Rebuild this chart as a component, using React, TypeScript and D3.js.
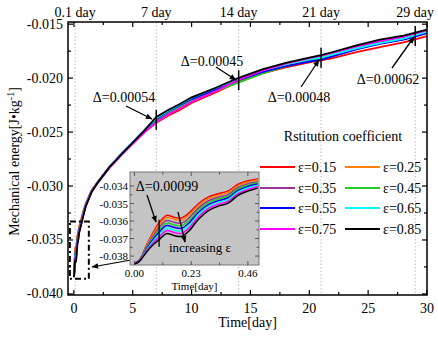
import React from 'react';
import * as d3 from 'd3';

// time axis shared by every series (dense at start so the inset can reuse it)
const timeDays = [0, 0.02, 0.05, 0.08, 0.1, 0.13, 0.16, 0.19, 0.22, 0.26, 0.3, 0.34, 0.38, 0.42, 0.46, 0.5,
  0.75, 1, 1.5, 2, 3, 4, 5, 6, 7, 8, 9, 10, 12, 14, 16, 18, 20, 21, 22, 24, 26, 28, 29, 30];

const e015 = [-0.03840, -0.03822, -0.03735, -0.03655, -0.03610, -0.03568, -0.03578, -0.03583, -0.03555, -0.03500, -0.03462, -0.03444, -0.03428, -0.03390, -0.03370, -0.03360,
  -0.03255, -0.03165, -0.03042, -0.02966, -0.02830, -0.02713, -0.02605, -0.02500, -0.02414, -0.02348, -0.02294, -0.02230, -0.02135, -0.02032, -0.01955, -0.01900, -0.01854, -0.01836, -0.01814, -0.01760, -0.01712, -0.01668, -0.01640, -0.01612];
const e025 = [-0.03841, -0.03823, -0.03740, -0.03664, -0.03622, -0.03580, -0.03590, -0.03596, -0.03567, -0.03511, -0.03471, -0.03453, -0.03436, -0.03398, -0.03377, -0.03366,
  -0.03262, -0.03170, -0.03045, -0.02967, -0.02827, -0.02708, -0.02596, -0.02488, -0.02390, -0.02322, -0.02264, -0.02200, -0.02106, -0.02025, -0.01946, -0.01884, -0.01830, -0.01808, -0.01780, -0.01725, -0.01678, -0.01640, -0.01610, -0.01580];
const e035 = [-0.03841, -0.03824, -0.03746, -0.03676, -0.03637, -0.03597, -0.03607, -0.03612, -0.03584, -0.03525, -0.03484, -0.03464, -0.03448, -0.03408, -0.03387, -0.03375,
  -0.03270, -0.03174, -0.03047, -0.02969, -0.02832, -0.02710, -0.02599, -0.02490, -0.02394, -0.02326, -0.02263, -0.02198, -0.02104, -0.02012, -0.01930, -0.01868, -0.01816, -0.01795, -0.01766, -0.01710, -0.01662, -0.01624, -0.01592, -0.01564];
const e045 = [-0.03842, -0.03825, -0.03752, -0.03687, -0.03651, -0.03612, -0.03622, -0.03627, -0.03598, -0.03538, -0.03495, -0.03474, -0.03457, -0.03416, -0.03395, -0.03382,
  -0.03275, -0.03178, -0.03050, -0.02971, -0.02829, -0.02709, -0.02598, -0.02489, -0.02386, -0.02318, -0.02262, -0.02206, -0.02122, -0.02042, -0.01958, -0.01892, -0.01838, -0.01816, -0.01784, -0.01722, -0.01674, -0.01636, -0.01608, -0.01576];
const e055 = [-0.03843, -0.03826, -0.03757, -0.03697, -0.03664, -0.03626, -0.03636, -0.03642, -0.03613, -0.03550, -0.03506, -0.03484, -0.03467, -0.03425, -0.03403, -0.03389,
  -0.03280, -0.03180, -0.03051, -0.02970, -0.02826, -0.02705, -0.02594, -0.02482, -0.02378, -0.02310, -0.02252, -0.02194, -0.02107, -0.02020, -0.01944, -0.01890, -0.01846, -0.01830, -0.01798, -0.01734, -0.01682, -0.01644, -0.01616, -0.01584];
const e065 = [-0.03844, -0.03828, -0.03763, -0.03708, -0.03678, -0.03641, -0.03651, -0.03657, -0.03627, -0.03563, -0.03517, -0.03494, -0.03477, -0.03434, -0.03411, -0.03396,
  -0.03285, -0.03183, -0.03053, -0.02972, -0.02828, -0.02707, -0.02595, -0.02484, -0.02370, -0.02302, -0.02244, -0.02182, -0.02094, -0.02005, -0.01928, -0.01872, -0.01826, -0.01808, -0.01780, -0.01724, -0.01676, -0.01634, -0.01602, -0.01570];
const e075 = [-0.03844, -0.03829, -0.03769, -0.03718, -0.03691, -0.03655, -0.03665, -0.03671, -0.03642, -0.03576, -0.03528, -0.03504, -0.03487, -0.03443, -0.03420, -0.03404,
  -0.03292, -0.03188, -0.03055, -0.02974, -0.02836, -0.02718, -0.02610, -0.02502, -0.02410, -0.02338, -0.02282, -0.02220, -0.02124, -0.02014, -0.01930, -0.01866, -0.01814, -0.01792, -0.01764, -0.01706, -0.01658, -0.01616, -0.01586, -0.01558];
const e085 = [-0.03845, -0.03830, -0.03775, -0.03730, -0.03707, -0.03672, -0.03682, -0.03688, -0.03658, -0.03590, -0.03540, -0.03515, -0.03498, -0.03453, -0.03429, -0.03412,
  -0.03300, -0.03192, -0.03057, -0.02973, -0.02827, -0.02712, -0.02597, -0.02485, -0.02360, -0.02296, -0.02240, -0.02178, -0.02092, -0.01997, -0.01920, -0.01858, -0.01810, -0.01788, -0.01758, -0.01696, -0.01644, -0.01606, -0.01578, -0.01550];

const seriesLabels = ['ε=0.15', 'ε=0.25', 'ε=0.35', 'ε=0.45', 'ε=0.55', 'ε=0.65', 'ε=0.75', 'ε=0.85'];
const seriesValues = [e015, e025, e035, e045, e055, e065, e075, e085];
const seriesColors = ['#ff0000', '#ff8000', '#993399', '#22cc22', '#0000ff', '#00ffff', '#ff00ff', '#000000'];

const topDays = [0.1, 7, 14, 21, 29];
const topLabels = ['0.1 day', '7 day', '14 day', '21 day', '29 day'];
const deltaDays = [7, 14, 21, 29];
const deltaLabels = ['Δ=0.00054', 'Δ=0.00045', 'Δ=0.00048', 'Δ=0.00062'];

const xTicks = [0, 5, 10, 15, 20, 25, 30];
const yTicks = [-0.040, -0.035, -0.030, -0.025, -0.020, -0.015];
const insetXTicks = [0, 0.23, 0.46];
const insetYTicks = [-0.038, -0.037, -0.036, -0.035, -0.034];

const FONT = '"Liberation Serif", "Times New Roman", serif';

export default function App() {
  const L = 68, R = 427, T = 22, B = 295;
  const x = d3.scaleLinear().domain([-0.5, 30]).range([L, R]);
  const y = d3.scaleLinear().domain([-0.0401, -0.0148]).range([B, T]);

  const iL = 130, iR = 259, iT = 172, iB = 265;
  const ix = d3.scaleLinear().domain([-0.018, 0.505]).range([iL, iR]);
  const iy = d3.scaleLinear().domain([-0.03851, -0.0332]).range([iB, iT]);

  const line = d3.line<number>()
    .x((_, i) => x(timeDays[i]))
    .y((d) => y(d));
  const insetIdx = timeDays.map((t, i) => i).filter((i) => timeDays[i] <= 0.505);
  const insetLine = d3.line<number>()
    .x((i) => ix(timeDays[i]))
    .curve(d3.curveCatmullRom);

  const minorX = d3.range(0, 30.01, 2.5);
  const minorY = d3.range(-0.04, -0.0149, 0.0025);
  const insetMinorX = d3.range(0, 0.5, 0.115);
  const insetMinorY = d3.range(-0.038, -0.0335, 0.0005);

  const deltaAnnot = [
    { tx: 124, ty: 97, x1: 126, y1: 106, x2: 152, y2: 119 },
    { tx: 212, ty: 61, x1: 216, y1: 67, x2: 236, y2: 80 },
    { tx: 299, ty: 97, x1: 301, y1: 87, x2: 319, y2: 60 },
    { tx: 388, ty: 79, x1: 392, y1: 68, x2: 414, y2: 37 },
  ];

  const legendRows = [167, 188, 208, 229];

  return (
    <svg width={438} height={338}
      style={{ display: 'block', position: 'absolute', left: 0, top: 0, fontFamily: FONT }}>
      <defs>
        <marker id="arr" viewBox="0 0 10 10" refX="9" refY="5" markerWidth="7" markerHeight="7"
          markerUnits="userSpaceOnUse" orient="auto">
          <path d="M0,1 L10,5 L0,9 z" fill="#000" />
        </marker>
      </defs>
      <rect width={438} height={338} fill="#fff" />

      {/* dotted day grid lines */}
      {topDays.map((d) => (
        <line key={d} x1={x(d)} x2={x(d)} y1={T} y2={B} stroke="#aaa" strokeWidth={0.8} strokeDasharray="1.5,2" />
      ))}

      {/* main curves */}
      {seriesValues.map((vals, k) => (
        <path key={k} d={line(vals) || ''} fill="none" stroke={seriesColors[k]} strokeWidth={1.8} />
      ))}

      {/* delta markers */}
      {deltaDays.map((d) => {
        const i = timeDays.indexOf(d);
        const vs = seriesValues.map((s) => s[i]);
        const mid = (y(d3.max(vs)!) + y(d3.min(vs)!)) / 2;
        return <line key={d} x1={x(d)} x2={x(d)} y1={mid - 10} y2={mid + 10} stroke="#000" strokeWidth={1.5} />;
      })}
      {deltaAnnot.map((a, k) => (
        <g key={k}>
          <text x={a.tx} y={a.ty} fontSize={14} textAnchor="middle" dominantBaseline="central">{deltaLabels[k]}</text>
          <line x1={a.x1} y1={a.y1} x2={a.x2} y2={a.y2} stroke="#000" strokeWidth={1.3} markerEnd="url(#arr)" />
        </g>
      ))}

      {/* frame */}
      <rect x={L} y={T} width={R - L} height={B - T} fill="none" stroke="#000" strokeWidth={1.5} />
      {minorX.map((v) => {
        const major = v % 5 === 0;
        const len = major ? 5 : 3;
        return (
          <g key={v}>
            <line x1={x(v)} x2={x(v)} y1={B} y2={B - len} stroke="#000" strokeWidth={1.2} />
            <line x1={x(v)} x2={x(v)} y1={T} y2={T + len} stroke="#000" strokeWidth={1.2} />
          </g>
        );
      })}
      {minorY.map((v, k) => {
        const len = k % 2 === 0 ? 5 : 3;
        return (
          <g key={k}>
            <line x1={L} x2={L + len} y1={y(v)} y2={y(v)} stroke="#000" strokeWidth={1.2} />
            <line x1={R} x2={R - len} y1={y(v)} y2={y(v)} stroke="#000" strokeWidth={1.2} />
          </g>
        );
      })}
      {xTicks.map((v) => (
        <text key={v} x={x(v)} y={B + 13} fontSize={14} textAnchor="middle" dominantBaseline="central">{v}</text>
      ))}
      {yTicks.map((v) => (
        <text key={v} x={L - 5} y={y(v)} fontSize={14} textAnchor="end" dominantBaseline="central">{v.toFixed(3)}</text>
      ))}
      {topDays.map((d, k) => (
        <text key={d} x={x(d)} y={12} fontSize={14} textAnchor="middle" dominantBaseline="central">{topLabels[k]}</text>
      ))}
      <text x={(L + R) / 2} y={322} fontSize={14} textAnchor="middle" dominantBaseline="central">Time[day]</text>
      <text transform={`translate(19,${(T + B) / 2 + 3}) rotate(-90)`} fontSize={14} textAnchor="middle">
        Mechanical energy[J•kg<tspan dy={-5} fontSize={10}>-1</tspan><tspan dy={5}>]</tspan>
      </text>

      {/* zoom box and pointer */}
      <rect x={x(-0.34)} y={y(-0.0333)} width={x(1.27) - x(-0.34)} height={y(-0.0386) - y(-0.0333)}
        fill="none" stroke="#000" strokeWidth={2} strokeDasharray="6,3,2,3" />
      <line x1={iL + 1} y1={260} x2={92} y2={267} stroke="#000" strokeWidth={1.2} markerEnd="url(#arr)" />

      {/* inset */}
      <rect x={iL} y={iT} width={iR - iL} height={iB - iT} fill="#c4c4c4" stroke="#777" strokeWidth={1} />
      {insetMinorX.map((v, k) => {
        const len = k % 2 === 0 ? 4 : 2.5;
        return (
          <g key={k}>
            <line x1={ix(v)} x2={ix(v)} y1={iB} y2={iB - len} stroke="#555" />
            <line x1={ix(v)} x2={ix(v)} y1={iT} y2={iT + len} stroke="#555" />
          </g>
        );
      })}
      {insetMinorY.map((v, k) => {
        const len = k % 2 === 0 ? 4 : 2.5;
        return (
          <g key={k}>
            <line x1={iL} x2={iL + len} y1={iy(v)} y2={iy(v)} stroke="#555" />
            <line x1={iR} x2={iR - len} y1={iy(v)} y2={iy(v)} stroke="#555" />
          </g>
        );
      })}
      {seriesValues.map((vals, k) => (
        <path key={k} d={insetLine.y((i) => iy(vals[i]))(insetIdx) || ''} fill="none"
          stroke={seriesColors[k]} strokeWidth={1.5} />
      ))}
      <line x1={ix(0.1)} x2={ix(0.1)} y1={iy(e015[4]) - 3} y2={iy(e085[4]) + 7} stroke="#000" strokeWidth={1.3} />
      <text x={167} y={186} fontSize={14} textAnchor="middle" dominantBaseline="central">Δ=0.00099</text>
      <line x1={147} y1={195} x2={156} y2={222} stroke="#000" strokeWidth={1.3} markerEnd="url(#arr)" />
      <text x={200} y={247} fontSize={13} textAnchor="middle" dominantBaseline="central">increasing ε</text>
      <line x1={178} y1={212} x2={185} y2={242} stroke="#000" strokeWidth={1.3} markerEnd="url(#arr)" />
      {insetXTicks.map((v) => (
        <text key={v} x={ix(v)} y={iB + 8} fontSize={11} textAnchor="middle" dominantBaseline="central">{v.toFixed(2)}</text>
      ))}
      {insetYTicks.map((v) => (
        <text key={v} x={iL - 2} y={iy(v)} fontSize={11} textAnchor="end" dominantBaseline="central">{v.toFixed(3)}</text>
      ))}
      <text x={(iL + iR) / 2} y={iB + 21} fontSize={11} textAnchor="middle" dominantBaseline="central">Time[day]</text>

      {/* legend */}
      <text x={343} y={136} fontSize={14} textAnchor="middle" dominantBaseline="central">Rstitution coefficient</text>
      {seriesLabels.map((lab, k) => {
        const col = k % 2;
        const row = Math.floor(k / 2);
        const x0 = col === 0 ? 260 : 345;
        const ly = legendRows[row];
        return (
          <g key={k}>
            <line x1={x0} x2={x0 + 35} y1={ly} y2={ly} stroke={seriesColors[k]} strokeWidth={2} />
            <text x={x0 + 38} y={ly} fontSize={14} dominantBaseline="central">{lab}</text>
          </g>
        );
      })}
    </svg>
  );
}
